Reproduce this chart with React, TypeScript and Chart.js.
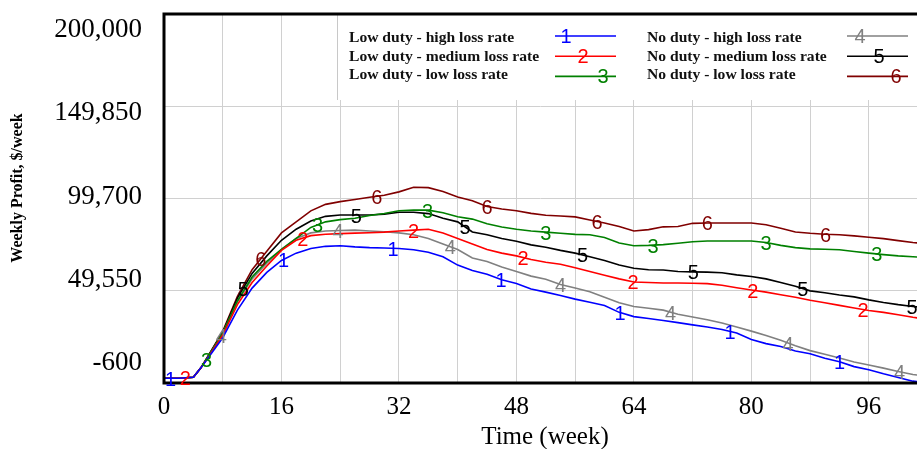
import React, { useEffect, useRef } from "react";
import { Chart, registerables } from "chart.js";

Chart.register(...registerables);

// ---------- data ----------
const weeks = [
  0, 2, 4, 5, 6,
  8, 10, 12, 14, 16,
  18, 20, 22, 24, 26,
  28, 30, 32, 34, 36,
  38, 40, 42, 44, 46,
  48, 50, 52, 54, 56,
  58, 60, 62, 64, 66,
  68, 70, 72, 74, 76,
  78, 80, 82, 84, 86,
  88, 90, 92, 94, 96,
  98, 100, 102, 104,
];

const lowDutyHighLoss = [
  2000, 2000, 2500, 7500, 13000,
  24000, 39000, 51000, 59500, 66000,
  70000, 72500, 73700, 74000, 73400,
  73000, 72800, 72500, 71800, 70500,
  68000, 63500, 60500, 58500, 55500,
  53500, 50500, 48800, 47000, 45000,
  43300, 41500, 37800, 35500, 34500,
  33400, 32200, 31000, 29800, 28500,
  26600, 23000, 20800, 19200, 16800,
  15300, 12800, 11000, 8300, 6600,
  4400, 2400, 400, -600,
];

const lowDutyMediumLoss = [
  2000, 2000, 2500, 7500, 13200,
  25500, 42000, 54000, 63000, 71500,
  77000, 79500, 80300, 80600, 80900,
  81100, 81400, 82000, 82500, 83000,
  81000, 78000, 75000, 72000, 70000,
  68500, 66500, 65000, 64000, 62000,
  60000, 58000, 56000, 54300, 54000,
  53800, 53800, 53600, 53400, 52500,
  51200, 50000, 48800, 47400, 46000,
  44400, 43000, 41600, 40200, 38800,
  37800, 36500, 35100, 34000,
];

const lowDutyLowLoss = [
  2000, 2000, 2500, 7500, 13500,
  26500, 44000, 57000, 65500, 72000,
  78000, 84000, 87000, 88200, 89000,
  90500, 91500, 93000, 93400, 93400,
  92000, 89800, 88500, 86000, 84200,
  83000, 82000, 81400, 80800, 80200,
  80000, 78500, 75500, 74000, 74200,
  74600, 75400, 76200, 76600, 76600,
  76600, 76600, 75800, 74200, 73000,
  72300, 72100, 71800, 70900, 70000,
  69200, 68500, 68000, 67500,
];

const noDutyHighLoss = [
  2000, 2000, 2500, 7500, 13500,
  26500, 43500, 56000, 64500, 72000,
  78000, 81000, 82000, 82300, 82500,
  82000, 81600, 81000, 80000, 78000,
  75000, 72000, 67400, 65500, 62500,
  60000, 57500, 55800, 53000, 51000,
  49000, 46000, 43000, 41000, 40000,
  39000, 36800, 35300, 33800, 32000,
  29800, 27600, 25200, 22600, 19700,
  17000, 15000, 13000, 10800, 9200,
  7500, 5700, 4000, 3000,
];

const noDutyMediumLoss = [
  2000, 2000, 2500, 7500, 14000,
  27000, 45500, 59000, 68500, 77000,
  83000, 87500, 90000, 90700, 90700,
  90700, 91200, 92200, 92200, 91500,
  89000, 87000, 81500, 80000, 78000,
  76500, 74500, 73200, 71500, 70000,
  68000, 66000, 63500, 61800, 61000,
  60800, 60000, 59800, 59700, 59300,
  58200, 57300, 56000, 54000, 52000,
  49500, 48500, 47200, 46200, 44600,
  43200, 42000, 41000, 40300,
];

const noDutyLowLoss = [
  2000, 2000, 2500, 7500, 14000,
  27500, 46500, 61000, 71000, 81000,
  87000, 93000, 96500, 98000, 99200,
  100400, 101500, 103300, 105800, 105600,
  103500, 100500, 98500, 95300, 94000,
  93000, 91600, 90600, 90200, 89700,
  88000, 86400, 84500, 82000, 82800,
  84300, 84500, 86200, 86400, 86400,
  86400, 86400, 85400, 83500, 81500,
  80800, 80300, 80000, 79400, 78600,
  77900, 76800, 75800, 75000,
];

const seriesValues = [
  lowDutyHighLoss,
  lowDutyMediumLoss,
  lowDutyLowLoss,
  noDutyHighLoss,
  noDutyMediumLoss,
  noDutyLowLoss,
];

const seriesNames = [
  "Low duty - high loss rate",
  "Low duty - medium loss rate",
  "Low duty - low loss rate",
  "No duty - high loss rate",
  "No duty - medium loss rate",
  "No duty - low loss rate",
];

const seriesColors = ["#0000ff", "#ff0000", "#008000", "#808080", "#000000", "#800000"];

// weeks at which the series number is written on each line
const labelWeeks = [
  [0.9, 16.3, 31.2, 45.9, 62.1, 77.1, 92.0],
  [2.9, 18.9, 34.0, 48.9, 63.9, 80.2, 95.2],
  [5.8, 20.9, 35.9, 52.0, 66.6, 82.0, 97.1],
  [7.8, 23.7, 39.0, 54.0, 69.0, 85.0, 100.2],
  [10.8, 26.2, 41.0, 57.0, 72.1, 87.0, 101.9],
  [13.2, 29.0, 44.0, 59.0, 74.0, 90.1],
];

const yTickValues = [-600, 49550, 99700, 149850, 200000];
const yTickLabels = ["-600", "49,550", "99,700", "149,850", "200,000"];
const xGridWeeks = [0, 8, 16, 24, 32, 40, 48, 56, 64, 72, 80, 88, 96];
const xTickLabels = [0, 16, 32, 48, 64, 80, 96];
const X_MIN = 0;
const X_MAX = 102.56;
const Y_MIN = -600;
const Y_MAX = 200000;

const yTitle = "Weekly Profit, $/week";
const xTitle = "Time (week)";

function valueAt(w: number, vals: number[]): number {
  for (let i = 0; i < weeks.length - 1; i++) {
    if (w >= weeks[i] && w <= weeks[i + 1]) {
      const t = (w - weeks[i]) / (weeks[i + 1] - weeks[i]);
      return vals[i] + t * (vals[i + 1] - vals[i]);
    }
  }
  return vals[vals.length - 1];
}

const SERIF = '"Liberation Serif", "Times New Roman", serif';
const SANS = '"Liberation Sans", Arial, sans-serif';

const overlayPlugin = {
  id: "vensimOverlay",
  afterDraw(chart: any) {
    const { ctx, chartArea: ca, scales } = chart;
    const xs = scales.x;
    const ys = scales.y;
    ctx.save();

    // legend box (white, covers grid) with light left border
    const lgLeft = 337;
    const lgBottom = 100;
    ctx.fillStyle = "#ffffff";
    ctx.fillRect(lgLeft, ca.top, ca.right - lgLeft, lgBottom - ca.top);
    ctx.strokeStyle = "#c8c8c8";
    ctx.lineWidth = 1;
    ctx.beginPath();
    ctx.moveTo(lgLeft + 0.5, ca.top);
    ctx.lineTo(lgLeft + 0.5, lgBottom);
    ctx.stroke();

    // legend entries
    const colText = [349, 647];
    const colLine = [
      [555, 616],
      [847, 908],
    ];
    const numX = [
      [566, 583, 603],
      [860, 879, 896],
    ];
    seriesNames.forEach((name, i) => {
      const c = Math.floor(i / 3);
      const r = i % 3;
      const textY = 38 + r * 18.5;
      const lineY = 36 + r * 20.2;
      ctx.fillStyle = "#111111";
      ctx.font = `bold 15.6px ${SERIF}`;
      ctx.textAlign = "left";
      ctx.textBaseline = "middle";
      ctx.fillText(name, colText[c], textY);
      ctx.strokeStyle = seriesColors[i];
      ctx.lineWidth = 1.6;
      ctx.beginPath();
      ctx.moveTo(colLine[c][0], lineY);
      ctx.lineTo(colLine[c][1], lineY);
      ctx.stroke();
      ctx.fillStyle = seriesColors[i];
      ctx.font = `20px ${SANS}`;
      ctx.textAlign = "center";
      ctx.fillText(String(i + 1), numX[c][r], lineY + 1.5);
    });

    // frame: top, left, bottom
    ctx.strokeStyle = "#000000";
    ctx.lineWidth = 3;
    ctx.beginPath();
    ctx.moveTo(ca.left - 1.5, ca.top);
    ctx.lineTo(ca.right, ca.top);
    ctx.moveTo(ca.left, ca.top);
    ctx.lineTo(ca.left, ca.bottom);
    ctx.moveTo(ca.left - 1.5, ca.bottom);
    ctx.lineTo(ca.right, ca.bottom);
    ctx.stroke();

    // series number labels on the lines
    ctx.font = `20px ${SANS}`;
    ctx.textAlign = "center";
    ctx.textBaseline = "middle";
    seriesValues.forEach((vals, i) => {
      ctx.fillStyle = seriesColors[i];
      labelWeeks[i].forEach((w) => {
        const v = valueAt(w, vals);
        ctx.fillText(String(i + 1), xs.getPixelForValue(w), ys.getPixelForValue(v) + 2);
      });
    });

    // y tick labels (Vensim spreads them evenly inside the axis)
    ctx.fillStyle = "#000000";
    ctx.font = `27px ${SERIF}`;
    ctx.textAlign = "right";
    ctx.textBaseline = "middle";
    const yLow = ca.bottom - 20;
    const yHigh = ca.top + 16;
    yTickLabels.forEach((lab, i) => {
      const py = yLow - ((yLow - yHigh) * i) / (yTickLabels.length - 1);
      ctx.fillText(lab, 142, py);
    });

    // x tick labels
    ctx.font = `25px ${SERIF}`;
    ctx.textAlign = "center";
    xTickLabels.forEach((w) => {
      ctx.fillText(String(w), xs.getPixelForValue(w), ca.bottom + 24);
    });

    // axis titles
    ctx.fillText(xTitle, 545, ca.bottom + 54);
    ctx.save();
    ctx.translate(18, 188);
    ctx.rotate(-Math.PI / 2);
    ctx.font = `bold 16px ${SERIF}`;
    ctx.fillText(yTitle, 0, 0);
    ctx.restore();

    ctx.restore();
  },
};

export default function App() {
  const canvasRef = useRef<HTMLCanvasElement | null>(null);

  useEffect(() => {
    const canvas = canvasRef.current;
    if (!canvas) return;
    const chart = new Chart(canvas, {
      type: "line",
      data: {
        datasets: seriesValues.map((vals, i) => ({
          label: seriesNames[i],
          data: weeks.map((w, j) => ({ x: w, y: vals[j] })),
          borderColor: seriesColors[i],
          backgroundColor: seriesColors[i],
          borderWidth: 1.6,
          pointRadius: 0,
          tension: 0,
          fill: false,
        })),
      },
      options: {
        animation: false,
        responsive: false,
        devicePixelRatio: 1,
        events: [],
        layout: { padding: { top: 14, right: 0, left: 0, bottom: 0 } },
        plugins: {
          legend: { display: false },
          tooltip: { enabled: false },
          title: { display: false },
        },
        scales: {
          x: {
            type: "linear",
            min: X_MIN,
            max: X_MAX,
            border: { display: false },
            grid: { color: "#d0d0d0", lineWidth: 1, drawTicks: false },
            ticks: { display: false },
            afterBuildTicks: (scale: any) => {
              scale.ticks = xGridWeeks.map((v) => ({ value: v }));
            },
            afterFit: (scale: any) => {
              scale.height = 66;
            },
          },
          y: {
            type: "linear",
            min: Y_MIN,
            max: Y_MAX,
            border: { display: false },
            grid: { color: "#d0d0d0", lineWidth: 1, drawTicks: false },
            ticks: { display: false },
            afterBuildTicks: (scale: any) => {
              scale.ticks = yTickValues.map((v) => ({ value: v }));
            },
            afterFit: (scale: any) => {
              scale.width = 164;
            },
          },
        },
      } as any,
      plugins: [overlayPlugin],
    });
    return () => chart.destroy();
  }, []);

  return (
    <div style={{ position: "absolute", left: 0, top: 0, width: 917, height: 449, background: "#fff", overflow: "hidden" }}>
      <canvas ref={canvasRef} width={917} height={449} style={{ display: "block", width: 917, height: 449 }} />
    </div>
  );
}
